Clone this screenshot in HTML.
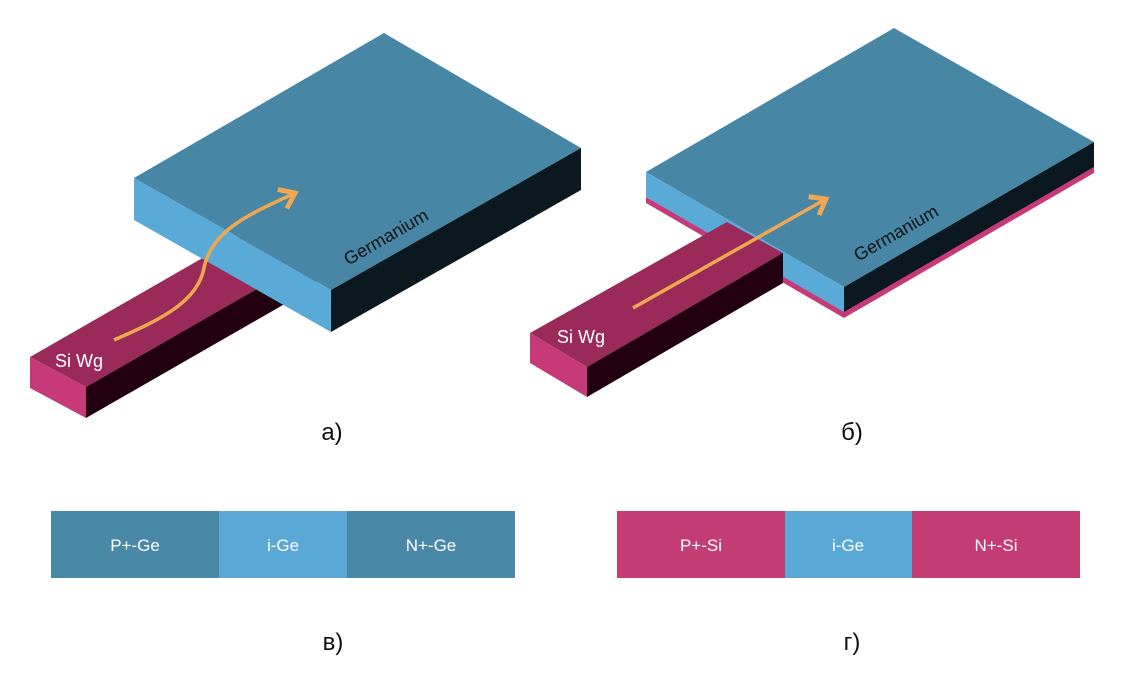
<!DOCTYPE html>
<html><head><meta charset="utf-8"><style>
html,body{margin:0;padding:0;background:#fff;width:1122px;height:681px;overflow:hidden}
svg{display:block}
text{font-family:"Liberation Sans",sans-serif}
</style></head><body>
<svg width="1122" height="681" viewBox="0 0 1122 681">
<defs>
<marker id="ah" markerWidth="8" markerHeight="8" refX="5" refY="4" orient="auto" markerUnits="strokeWidth"><path d="M1,1 L5,4 L1,7" fill="none" stroke="#f0a850" stroke-width="1.4"/></marker>
</defs>
<!-- Panel a -->
<g>
 <g>
  <polygon points="30,357 260,225 316,255 86,387" fill="#9a2a5a"/>
  <polygon points="30,357 86,387 86,418 30,388" fill="#c63a78"/>
  <polygon points="86,387 316,255 316,286 86,418" fill="#220010"/>
 </g>
 <g>
  <polygon points="134,178 384,33 581,148 331,290" fill="#4886a6"/>
  <polygon points="134,178 331,290 331,332 134,220" fill="#5aaad8"/>
  <polygon points="331,290 581,148 581,190 331,332" fill="#0b1820"/>
 </g>
 <path d="M114,340 C165,318 198,300 204,268 C212,228 255,212 295,193" fill="none" stroke="#f0a850" stroke-width="3.5" marker-end="url(#ah)"/>
 <text x="386" y="243" font-size="18" text-anchor="middle" transform="rotate(-30 386 237)" fill="#111">Germanium</text>
 <text x="55" y="367" font-size="18" fill="#fff">Si Wg</text>
 <text x="332" y="440" font-size="24" text-anchor="middle" fill="#111">а)</text>
</g>
<!-- Panel b -->
<g>
 <g>
  <polygon points="646,197 844,310 1094,167 1094,173 844,318 646,203" fill="#c63a78"/>
  <polygon points="646,172 894,28 1094,142 844,287" fill="#4886a6"/>
  <polygon points="646,172 844,287 844,312 646,197" fill="#5aaad8"/>
  <polygon points="844,287 1094,142 1094,167 844,312" fill="#0b1820"/>
 </g>
 <g>
  <polygon points="530,333 727,222 783,253 587,367" fill="#9a2a5a"/>
  <polygon points="530,333 587,367 587,397 530,363" fill="#c63a78"/>
  <polygon points="587,367 783,253 783,283 587,397" fill="#220010"/>
 </g>
 <path d="M633,308 L826,199" fill="none" stroke="#f0a850" stroke-width="3.5" marker-end="url(#ah)"/>
 <text x="896" y="239" font-size="18" text-anchor="middle" transform="rotate(-30 896 233)" fill="#111">Germanium</text>
 <text x="557" y="343" font-size="18" fill="#fff">Si Wg</text>
 <text x="852" y="440" font-size="24" text-anchor="middle" fill="#111">б)</text>
</g>
<!-- Panel v -->
<g>
 <rect x="51" y="511" width="168" height="67" fill="#4a88a8"/>
 <rect x="219" y="511" width="128" height="67" fill="#5aa8d6"/>
 <rect x="347" y="511" width="168" height="67" fill="#4a88a8"/>
 <text x="135" y="551" font-size="17" text-anchor="middle" fill="#fff">P+-Ge</text>
 <text x="283" y="551" font-size="17" text-anchor="middle" fill="#fff">i-Ge</text>
 <text x="431" y="551" font-size="17" text-anchor="middle" fill="#fff">N+-Ge</text>
 <text x="333" y="650" font-size="24" text-anchor="middle" fill="#111">в)</text>
</g>
<!-- Panel g -->
<g>
 <rect x="617" y="511" width="168" height="67" fill="#c43c74"/>
 <rect x="785" y="511" width="127" height="67" fill="#5aa8d6"/>
 <rect x="912" y="511" width="168" height="67" fill="#c43c74"/>
 <text x="701" y="551" font-size="17" text-anchor="middle" fill="#fff">P+-Si</text>
 <text x="848" y="551" font-size="17" text-anchor="middle" fill="#fff">i-Ge</text>
 <text x="996" y="551" font-size="17" text-anchor="middle" fill="#fff">N+-Si</text>
 <text x="852" y="650" font-size="24" text-anchor="middle" fill="#111">г)</text>
</g>
</svg>
</body></html>
